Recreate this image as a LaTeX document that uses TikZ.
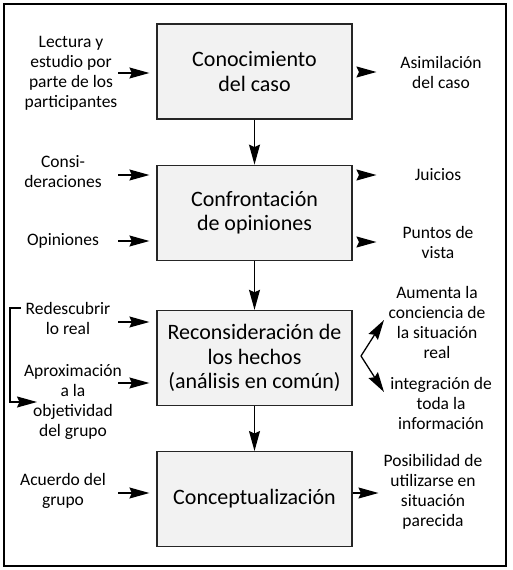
\documentclass[tikz,border=0pt]{standalone}
\usepackage{fontspec}
\setmainfont{Carlito}
\usetikzlibrary{positioning,arrows.meta}

\begin{document}
\begin{tikzpicture}[x=1pt,y=-1pt,
    fase/.style={draw=black!85,fill=black!5,line width=1.2pt,minimum width=195pt,
                 minimum height=95pt,align=center,font=\fontsize{22}{24.5}\selectfont},
    lbl/.style={align=center,inner sep=0pt,font=\fontsize{17.5}{20}\selectfont},
    flecha/.style={line width=1.3pt,-{Stealth[length=20pt,width=11pt,inset=2.5pt]}}]
    \useasboundingbox (0,0) rectangle (512,570);
    \draw[line width=1.3pt] (4,4) rectangle (506,566);

    % fases
    \node[fase] (conocimiento) at (254.5,71.5) {Conocimiento\\del caso};
    \node[fase] (confrontacion) [below=45pt of conocimiento] {Confrontación\\de opiniones};
    \node[fase] (reconsideracion) [below=49pt of confrontacion] {Reconsideración de\\los hechos\\(análisis en común)};
    \node[fase] (conceptualizacion) [below=45pt of reconsideracion] {Conceptualización};

    % entradas
    \node[lbl] (lectura) at (71,73) {Lectura y\\estudio por\\parte de los\\participantes};
    \node[lbl] (consideraciones) at (63,172) {Consi-\\deraciones};
    \node[lbl] (opiniones) at (63,241) {Opiniones};
    \node[lbl] (redescubrir) at (68,318) {Redescubrir\\lo real};
    \node[lbl] (aproximacion) at (73,402) {Aproximación\\a la\\objetividad\\del grupo};
    \node[lbl] (acuerdo) at (63,491) {Acuerdo del\\grupo};

    % salidas
    \node[lbl] (asimilacion) at (441,72) {Asimilación\\del caso};
    \node[lbl] (juicios) at (438,175) {Juicios};
    \node[lbl] (puntos) at (438,242) {Puntos de\\vista};
    \node[lbl] (aumenta) at (437,322) {Aumenta la\\conciencia de\\la situación\\real};
    \node[lbl] (integracion) at (441,403) {integración de\\toda la\\información};
    \node[lbl] (posibilidad) at (433,492) {Posibilidad de\\utilizarse en\\situación\\parecida};

    \coordinate (izq) at (118,0);
    \coordinate (der) at (360,0);
    \coordinate (vertice) at (361,356);
    \coordinate (puntaA) at (384,320);
    \coordinate (puntaB) at (384,392);
    \coordinate (llaveA) at (21,308);
    \coordinate (llaveB) at (10,402);
    \coordinate (llaveC) at (37,402);

    \path[flecha]
    (conocimiento)    edge (confrontacion)
    (confrontacion)   edge (reconsideracion)
    (reconsideracion) edge (conceptualizacion)
    ;

    \path[flecha,shorten >=7pt]
    (lectura -| izq)                       edge (lectura -| conocimiento.west)
    ([yshift=-3pt]consideraciones -| izq)  edge ([yshift=-3pt]consideraciones -| confrontacion.west)
    (opiniones -| izq)                     edge (opiniones -| confrontacion.west)
    ([yshift=-4pt]redescubrir -| izq)      edge ([yshift=-4pt]redescubrir -| reconsideracion.west)
    ([yshift=19pt]aproximacion -| izq)     edge ([yshift=19pt]aproximacion -| reconsideracion.west)
    ([yshift=-2pt]acuerdo -| izq)          edge ([yshift=-2pt]acuerdo -| conceptualizacion.west)
    ;

    \path[flecha]
    (asimilacion -| der) edge ([xshift=-7pt]asimilacion.west -| posibilidad.west)
    (juicios -| der)     edge ([xshift=-7pt]juicios.west -| posibilidad.west)
    (puntos -| der)      edge ([xshift=-7pt]puntos.west -| posibilidad.west)
    ([yshift=-1pt]posibilidad -| conceptualizacion.east) edge ([yshift=-1pt,xshift=-5pt]posibilidad.west)
    (vertice) edge (puntaA)
              edge (puntaB)
    ;

    \draw[flecha] (llaveA) -| (llaveB) -- (llaveC);
\end{tikzpicture}
\end{document}
